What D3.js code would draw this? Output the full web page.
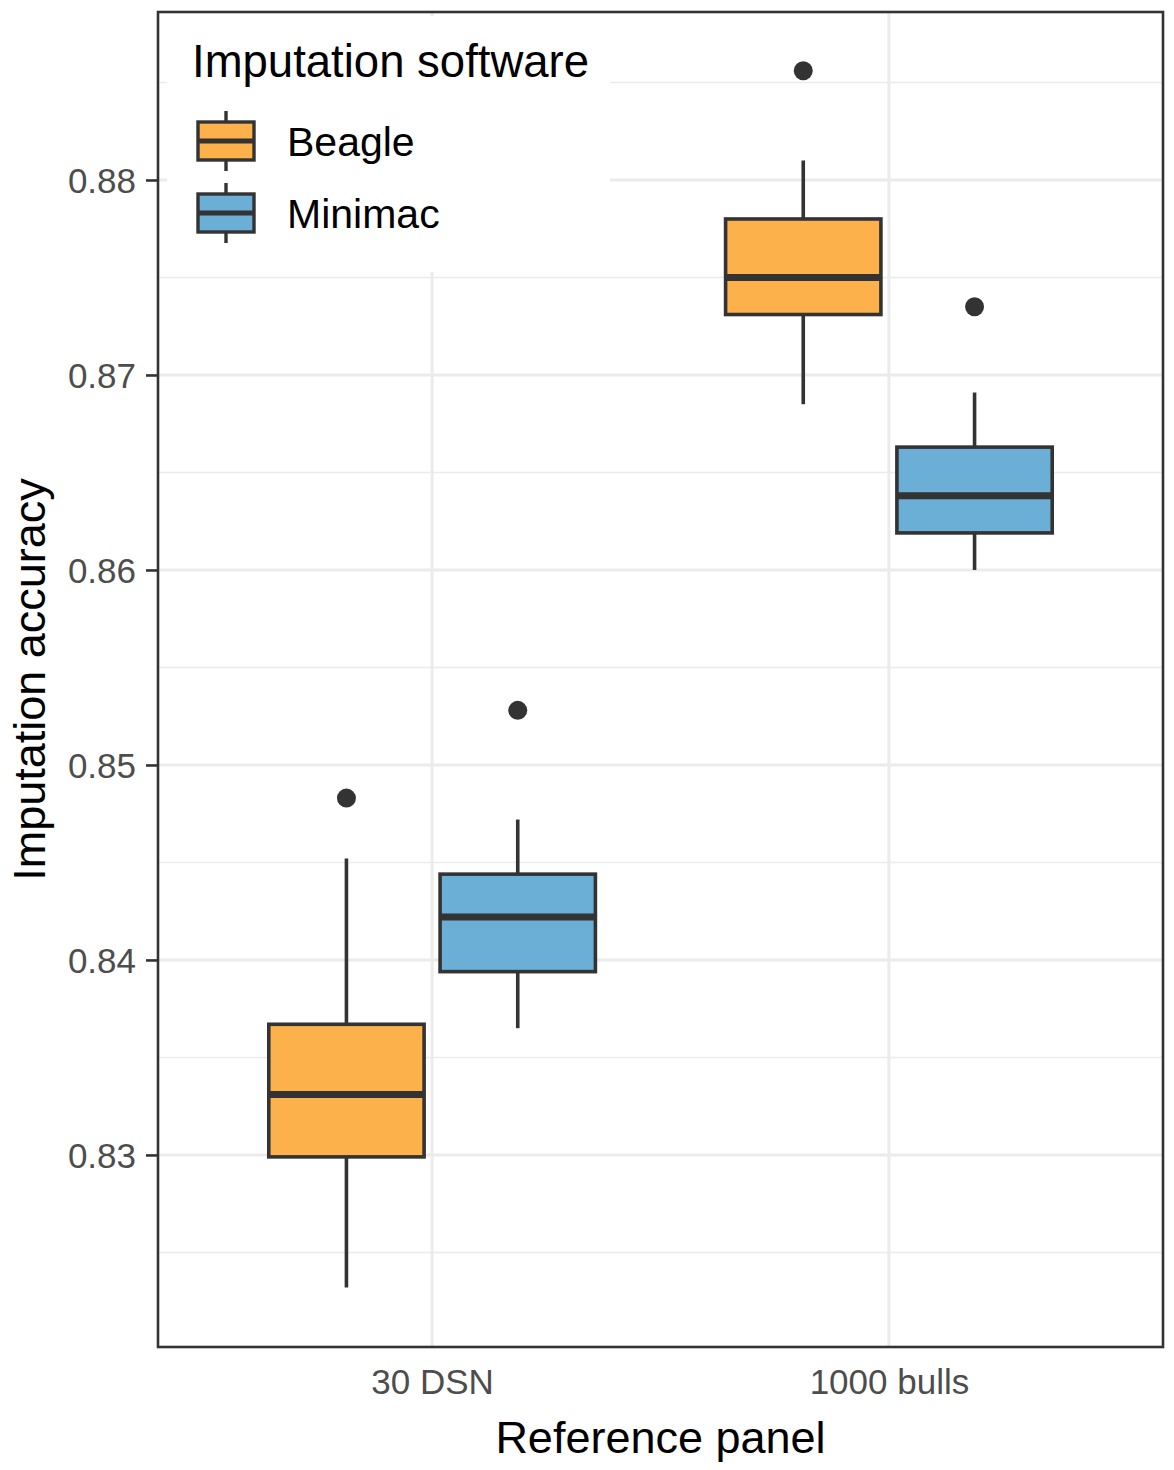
<!DOCTYPE html>
<html>
<head>
<meta charset="utf-8">
<script src="https://cdn.jsdelivr.net/npm/d3@7"></script>
<style>
  body { margin: 0; background: #fff; }
  text { font-family: "Liberation Sans", Arial, Helvetica, sans-serif; }
</style>
</head>
<body>
<div id="chart"></div>
<script>
// reference panels on the x axis, software as fill
var categories = ['30 DSN', '1000 bulls'];
var software = ['Beagle', 'Minimac'];
var fills = ['#FDB14B', '#6BAED6'];

// box statistics, one value per reference panel
var beagleLow = [0.8232, 0.8685];
var beagleQ1 = [0.8299, 0.8731];
var beagleMedian = [0.8331, 0.8750];
var beagleQ3 = [0.8367, 0.8780];
var beagleHigh = [0.8452, 0.8810];
var beagleOutlier = [0.8483, 0.8856];

var minimacLow = [0.8365, 0.8600];
var minimacQ1 = [0.8394, 0.8619];
var minimacMedian = [0.8422, 0.8638];
var minimacQ3 = [0.8444, 0.8663];
var minimacHigh = [0.8472, 0.8691];
var minimacOutlier = [0.8528, 0.8735];

var yTicks = [0.83, 0.84, 0.85, 0.86, 0.87, 0.88];
var yMinor = [0.825, 0.835, 0.845, 0.855, 0.865, 0.875, 0.885];

var width = 1174, height = 1470;
var pLeft = 158, pRight = 1163, pTop = 12, pBottom = 1347;

var boxes = [];
categories.forEach(function (c, i) {
    boxes.push({ cat: c, sw: 'Beagle', low: beagleLow[i], q1: beagleQ1[i], med: beagleMedian[i],
                 q3: beagleQ3[i], high: beagleHigh[i], out: [beagleOutlier[i]] });
    boxes.push({ cat: c, sw: 'Minimac', low: minimacLow[i], q1: minimacQ1[i], med: minimacMedian[i],
                 q3: minimacQ3[i], high: minimacHigh[i], out: [minimacOutlier[i]] });
});

var svg = d3.select('#chart')
    .append('svg')
    .attr('width', width)
    .attr('height', height);

var x = d3.scalePoint().domain(categories).range([pLeft, pRight]).padding(0.6);
var step = x.step();
var dodge = d3.scaleBand().domain(software).range([-step * 0.375, step * 0.375]);
var boxW = step * 0.34;
var y = d3.scaleLinear().domain([0.82015, 0.888615]).range([pBottom, pTop]);
var color = d3.scaleOrdinal().domain(software).range(fills);

function cx(d) { return x(d.cat) + dodge(d.sw) + dodge.bandwidth() / 2; }

// grid
var grid = svg.append('g');
grid.selectAll('line.minor')
    .data(yMinor)
    .enter()
    .append('line')
    .attr('x1', pLeft).attr('x2', pRight)
    .attr('y1', function (d) { return y(d); })
    .attr('y2', function (d) { return y(d); })
    .attr('stroke', '#ebebeb')
    .attr('stroke-width', 1.6);
grid.selectAll('line.major')
    .data(yTicks)
    .enter()
    .append('line')
    .attr('x1', pLeft).attr('x2', pRight)
    .attr('y1', function (d) { return y(d); })
    .attr('y2', function (d) { return y(d); })
    .attr('stroke', '#ebebeb')
    .attr('stroke-width', 3);
grid.selectAll('line.xmajor')
    .data(categories)
    .enter()
    .append('line')
    .attr('x1', function (d) { return x(d); })
    .attr('x2', function (d) { return x(d); })
    .attr('y1', pTop).attr('y2', pBottom)
    .attr('stroke', '#ebebeb')
    .attr('stroke-width', 3);

// boxplots
var g = svg.append('g')
    .selectAll('g')
    .data(boxes)
    .enter()
    .append('g');

g.append('line')
    .attr('x1', cx).attr('x2', cx)
    .attr('y1', function (d) { return y(d.high); })
    .attr('y2', function (d) { return y(d.q3); })
    .attr('stroke', '#333')
    .attr('stroke-width', 3.6);
g.append('line')
    .attr('x1', cx).attr('x2', cx)
    .attr('y1', function (d) { return y(d.q1); })
    .attr('y2', function (d) { return y(d.low); })
    .attr('stroke', '#333')
    .attr('stroke-width', 3.6);
g.append('rect')
    .attr('x', function (d) { return cx(d) - boxW / 2; })
    .attr('y', function (d) { return y(d.q3); })
    .attr('width', boxW)
    .attr('height', function (d) { return y(d.q1) - y(d.q3); })
    .attr('fill', function (d) { return color(d.sw); })
    .attr('stroke', '#333')
    .attr('stroke-width', 3.6);
g.append('line')
    .attr('x1', function (d) { return cx(d) - boxW / 2; })
    .attr('x2', function (d) { return cx(d) + boxW / 2; })
    .attr('y1', function (d) { return y(d.med); })
    .attr('y2', function (d) { return y(d.med); })
    .attr('stroke', '#333')
    .attr('stroke-width', 7);
g.selectAll('circle')
    .data(function (d) { return d.out.map(function (v) { return { v: v, p: d }; }); })
    .enter()
    .append('circle')
    .attr('cx', function (o) { return cx(o.p); })
    .attr('cy', function (o) { return y(o.v); })
    .attr('r', 9.5)
    .attr('fill', '#333');

// panel border
svg.append('rect')
    .attr('x', pLeft).attr('y', pTop)
    .attr('width', pRight - pLeft).attr('height', pBottom - pTop)
    .attr('fill', 'none')
    .attr('stroke', '#333')
    .attr('stroke-width', 2.6);

// axes
var yAxis = svg.append('g')
    .attr('transform', 'translate(' + pLeft + ',0)')
    .call(d3.axisLeft(y).tickValues(yTicks).tickSize(12).tickPadding(10).tickFormat(d3.format('.2f')));
var xAxis = svg.append('g')
    .attr('transform', 'translate(0,' + pBottom + ')')
    .call(d3.axisBottom(x).tickSize(8).tickPadding(14));
[yAxis, xAxis].forEach(function (a) {
    a.select('.domain').remove();
    a.selectAll('.tick line').attr('stroke', '#333').attr('stroke-width', 2.6);
    a.selectAll('.tick text')
        .attr('fill', '#4d4d4d')
        .style('font-size', '35px')
        .style('font-family', '"Liberation Sans", Arial, sans-serif');
});
xAxis.selectAll('.tick line').attr('stroke', 'none');
yAxis.selectAll('.tick text').attr('dy', '0.36em');
xAxis.selectAll('.tick text').attr('dy', '0.71em');

svg.append('text')
    .attr('x', (pLeft + pRight) / 2)
    .attr('y', 1453)
    .attr('text-anchor', 'middle')
    .style('font-size', '45px')
    .text('Reference panel');
svg.append('text')
    .attr('transform', 'translate(45,' + ((pTop + pBottom) / 2) + ') rotate(-90)')
    .attr('text-anchor', 'middle')
    .style('font-size', '45px')
    .text('Imputation accuracy');

// legend
var legend = svg.append('g');
legend.append('rect')
    .attr('x', 167).attr('y', 16)
    .attr('width', 443).attr('height', 256)
    .attr('fill', '#fff');
legend.append('text')
    .attr('x', 192).attr('y', 77)
    .style('font-size', '45.5px')
    .text('Imputation software');
var key = legend.selectAll('g.key')
    .data(software)
    .enter()
    .append('g')
    .attr('transform', function (d, i) { return 'translate(226,' + (141 + i * 72) + ')'; });
key.append('line')
    .attr('y1', -30).attr('y2', 30)
    .attr('stroke', '#333').attr('stroke-width', 3.4);
key.append('rect')
    .attr('x', -28).attr('y', -19)
    .attr('width', 56).attr('height', 38)
    .attr('fill', function (d) { return color(d); })
    .attr('stroke', '#333').attr('stroke-width', 3.4);
key.append('line')
    .attr('x1', -28).attr('x2', 28)
    .attr('stroke', '#333').attr('stroke-width', 5);
key.append('text')
    .attr('x', 61).attr('y', 15)
    .style('font-size', '41px')
    .text(function (d) { return d; });
</script>
</body>
</html>
